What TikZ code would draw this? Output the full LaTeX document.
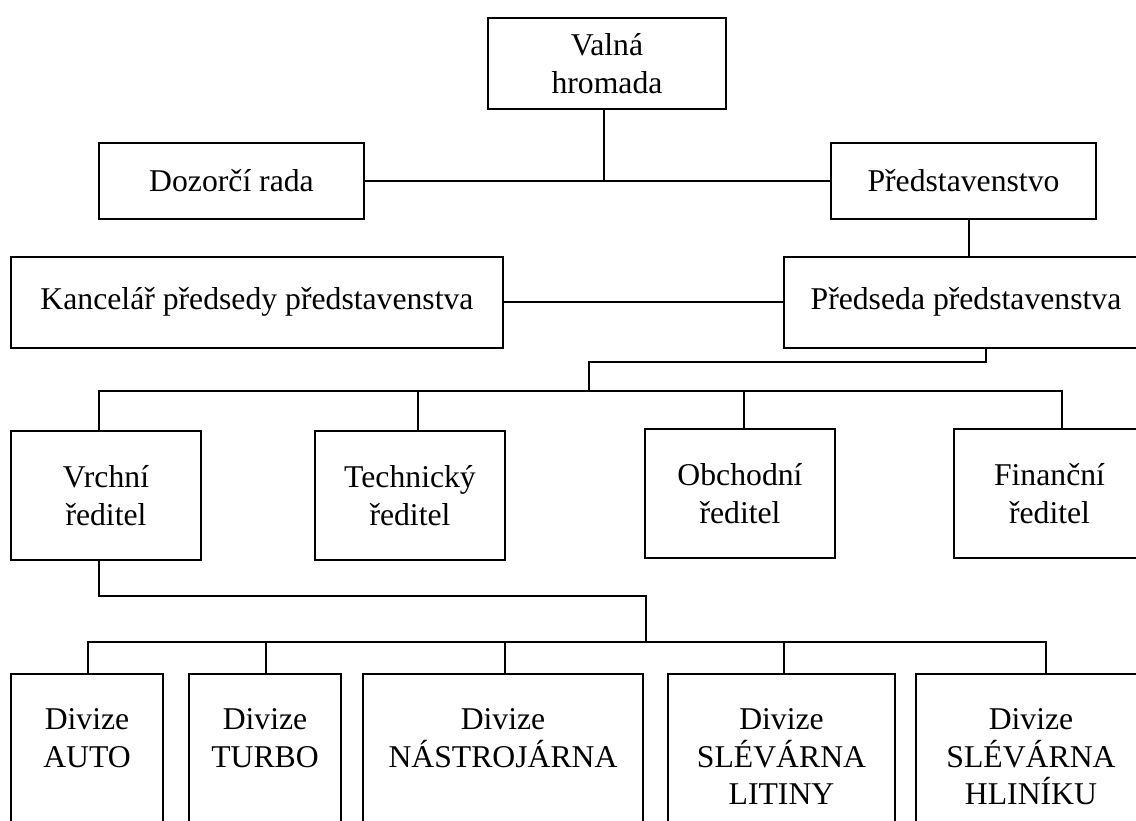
\documentclass[tikz,border=0pt]{standalone}
\usepackage{fontspec}
\setmainfont{Liberation Serif}
\newcommand{\mydivbox}[2]{\parbox[c][175pt][t]{#1}{\centering\vspace*{34.5pt}#2}}
\tikzset{
  box/.style={draw, line width=2pt, inner sep=0pt, align=center,
              font=\fontsize{31.7}{37.5}\selectfont},
  dbox/.style={draw, line width=2pt, inner sep=0pt, anchor=north,
              font=\fontsize{31.7}{37.5}\selectfont},
  conn/.style={line width=1.8pt}
}
\begin{document}
\begin{tikzpicture}[x=1pt,y=-1pt]
\useasboundingbox (0,0) rectangle (1136,820);
\clip (0,0) rectangle (1136,820);
\fill[white] (0,0) rectangle (1136,820);

% boxes
\node[box, minimum width=238pt, minimum height=91pt] (valna) at (607,63.5) {Valná\\hromada};
\node[box, minimum width=265pt, minimum height=76pt] (dozor) at (231.5,181) {Dozorčí rada};
\node[box, minimum width=265pt, minimum height=76pt] (predst) at (963.5,181) {Představenstvo};
\node[box, minimum width=492pt, minimum height=91pt] (kanc) at (257,302) {Kancelář předsedy představenstva};
\node[box, minimum width=364pt, minimum height=91pt] (predseda) at (966,302) {Předseda představenstva};

\node[box, minimum width=190pt, minimum height=129pt] (vrchni) at (106,495.5) {Vrchní\\ředitel};
\node[box, minimum width=190pt, minimum height=129pt] (tech) at (410,495.5) {Technický\\ředitel};
\node[box, minimum width=190pt, minimum height=129pt] (obch) at (740,493.5) {Obchodní\\ředitel};
\node[box, minimum width=191pt, minimum height=129pt] (fin) at (1049.5,493.5) {Finanční\\ředitel};

\node[dbox] (auto) at (87,673) {\mydivbox{152pt}{Divize\\AUTO}};
\node[dbox] (turbo) at (265,673) {\mydivbox{152pt}{Divize\\TURBO}};
\node[dbox] (nastr) at (503,673) {\mydivbox{280pt}{Divize\\NÁSTROJÁRNA}};
\node[dbox] (litiny) at (781.5,673) {\mydivbox{227pt}{Divize\\SLÉVÁRNA\\LITINY}};
\node[dbox] (hlinik) at (1031,673) {\mydivbox{230pt}{Divize\\SLÉVÁRNA\\HLINÍKU}};

% connectors, top part
\coordinate (j0) at (604,181);
\draw[conn] (dozor) -- (predst);
\draw[conn] (valna.south -| j0) -- (j0);
\coordinate (j1) at (969,181);
\draw[conn] (predst.south -| j1) -- (predseda.north -| j1);
\draw[conn] (kanc) -- (predseda);

% from Předseda to directors
\coordinate (k1) at (986,362);
\coordinate (k2) at (589,362);
\coordinate (k3) at (589,391);
\draw[conn] (predseda.south -| k1) -- (k1) -- (k2) -- (k3);
\coordinate (ba) at (99,391);
\coordinate (bb) at (1062,391);
\coordinate (btech) at (418,391);
\coordinate (bobch) at (744,391);
\draw[conn] (vrchni.north -| ba) -- (ba) -- (bb) -- (fin.north -| bb);
\draw[conn] (btech) -- (tech.north -| btech);
\draw[conn] (bobch) -- (obch.north -| bobch);

% from Vrchní ředitel to divisions
\coordinate (m1) at (99,596);
\coordinate (m2) at (646,596);
\coordinate (m3) at (646,642);
\draw[conn] (vrchni.south -| m1) -- (m1) -- (m2) -- (m3);
\coordinate (ca) at (88,642);
\coordinate (cb) at (1046,642);
\coordinate (cturbo) at (266,642);
\coordinate (cnastr) at (505,642);
\coordinate (clitiny) at (784,642);
\draw[conn] (auto.north -| ca) -- (ca) -- (cb) -- (hlinik.north -| cb);
\draw[conn] (cturbo) -- (turbo.north -| cturbo);
\draw[conn] (cnastr) -- (nastr.north -| cnastr);
\draw[conn] (clitiny) -- (litiny.north -| clitiny);
\end{tikzpicture}
\end{document}
